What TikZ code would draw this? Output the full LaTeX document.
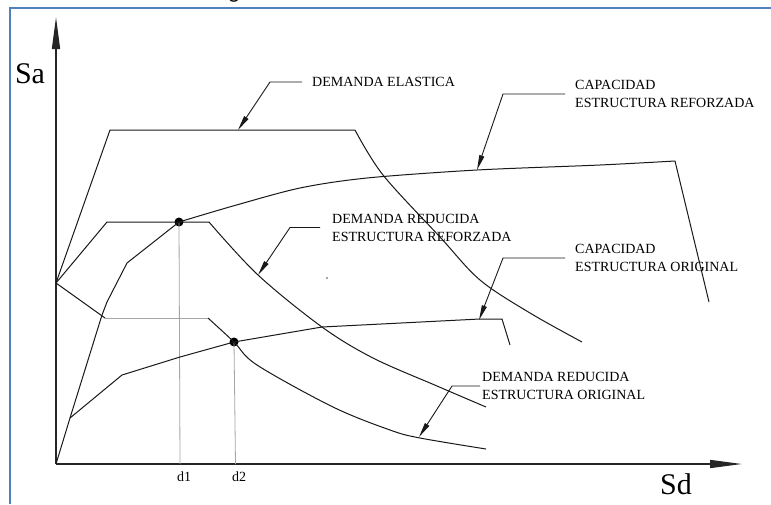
\documentclass[tikz,border=0pt]{standalone}
\usepackage{fontspec}
\setmainfont{Liberation Serif}
\newfontfamily\captionfont{Carlito}
\usetikzlibrary{arrows.meta}
\definecolor{frameblue}{RGB}{79,129,189}
\tikzset{
  curve/.style={line width=1.0pt, black!90, line join=round},
  axisline/.style={line width=1.5pt, black!85, -{Triangle[length=32pt,width=8pt]}},
  guide/.style={line width=0.8pt, black!35},
  leader/.style={line width=0.9pt, black!90, -{Triangle[length=15pt,width=5pt]}},
  lbl/.style={font=\fontsize{14}{18}\selectfont, align=left, anchor=west, inner sep=0pt, text=black},
  axlbl/.style={font=\fontsize{30}{30}\selectfont, inner sep=0pt, text=black},
  ticklbl/.style={font=\fontsize{14}{14}\selectfont, inner sep=0pt, text=black},
  pt/.style={circle, fill=black, minimum size=9pt, inner sep=0pt},
}
\begin{document}
\begin{tikzpicture}[x=1pt, y=-1pt]
\useasboundingbox (0,0) rectangle (771,504);
\fill[white] (0,0) rectangle (771,504);

% frame (left and top edges) and caption fragment above it
\draw[frameblue, line width=2pt] (9.5,504) -- (9.5,7.5) -- (771,7.5);
\node[font=\captionfont\fontsize{22}{22}\selectfont, anchor=base, inner sep=0pt] (cap) at (234,-1.5) {g};

% axes
\coordinate (O) at (56,464);
\coordinate (ytip) at (56,17);
\coordinate (xtip) at (742,464);
\draw[axisline] (O) -- (ytip);
\draw[axisline] (O) -- (xtip);
\node[axlbl] (Sa) at (30,74) {Sa};
\node[axlbl] (Sd) at (676,484) {Sd};

% performance points
\node[pt] (p1) at (179,222) {};
\node[pt] (p2) at (234,342) {};
\coordinate (d1base) at (180,464);
\coordinate (d2base) at (235.5,464);
\draw[guide] (p1.center) -- (d1base);
\draw[guide] (p2.center) -- (d2base);
\node[ticklbl] (d1) at (184,477) {d1};
\node[ticklbl] (d2) at (239,477) {d2};

% demand spectra start at the spectral acceleration axis
\coordinate (pga) at (56,283);

% elastic demand
\draw[curve] (pga) -- (110,130) -- (355,130)
  plot[smooth, tension=0.55] coordinates {(355,130) (383,175) (440,237) (480,280) (530,313) (582,342)};

% reduced demand, strengthened structure
\draw[curve] (pga) -- (107,222) -- (209,222)
  plot[smooth, tension=0.55] coordinates {(209,222) (258,275) (322,327) (373,358) (437,386) (486,407)};

% reduced demand, original structure
\draw[curve] (pga) -- (105,318);
\draw[guide] (105,318) -- (208,318);
\draw[curve] plot[smooth, tension=0.55] coordinates {(208,318) (234,342) (257,365) (333,407) (390,430) (420,438) (486,449)};

% capacity, strengthened structure
\draw[curve] (O) -- (70,418) -- (102,315) -- (107,302) -- (127,263) -- (179,222)
  plot[smooth, tension=0.5] coordinates {(179,222) (233,206) (300,188) (367,178) (477,170) (600,165) (675,161)}
  -- (709,302);

% capacity, original structure
\draw[curve] (70,418) -- (122,375) -- (180,357) -- (234,342) -- (322,327)
  -- (480,319) -- (502,319) -- (510,345);

% small speck
\fill[black!70] (327,278) circle (0.9);

% labels with leaders
\node[lbl] (elas) at (312,82) {DEMANDA ELASTICA};
\coordinate (elasTip) at (238,130);
\draw[leader] ([xshift=-10pt]elas.west) -- (270,82) -- (elasTip);

\node[lbl] (capR) at (575,94) {CAPACIDAD\\ESTRUCTURA REFORZADA};
\coordinate (capRTip) at (477,170);
\draw[leader] ([xshift=-10pt]capR.west) -- (503,94) -- (capRTip);

\node[lbl] (demR) at (332,227.5) {DEMANDA REDUCIDA\\ESTRUCTURA REFORZADA};
\coordinate (demRTip) at (258,275);
\draw[leader] ([xshift=-12pt]demR.west) -- (290,227.5) -- (demRTip);

\node[lbl] (capO) at (575,258) {CAPACIDAD\\ESTRUCTURA ORIGINAL};
\coordinate (capOTip) at (479,320);
\draw[leader] ([xshift=-10pt]capO.west) -- (503,258) -- (capOTip);

\node[lbl] (demO) at (482,386) {DEMANDA REDUCIDA\\ESTRUCTURA ORIGINAL};
\coordinate (demOTip) at (419,437);
\draw[leader] ([xshift=-2pt]demO.west) -- (452,386) -- (demOTip);
\end{tikzpicture}
\end{document}
